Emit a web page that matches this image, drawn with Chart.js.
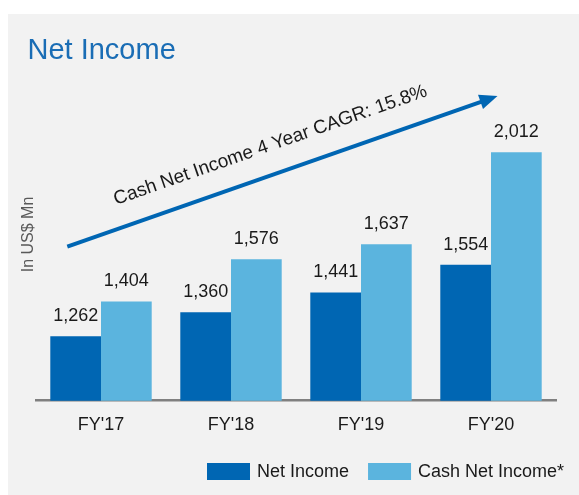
<!DOCTYPE html>
<html><head><meta charset="utf-8">
<script src="https://cdn.jsdelivr.net/npm/chart.js@4"></script>
<style>
html,body{margin:0;padding:0;background:#ffffff;overflow:hidden;}
#panel{position:absolute;left:8px;top:14px;width:571px;height:481px;background:#f2f2f2;}
#wrap{position:absolute;left:0;top:0;width:579px;height:495px;}
</style></head><body>
<div id="panel"></div>
<div id="wrap"><canvas id="c" width="579" height="495"></canvas></div>
<script>
const categories = ["FY'17", "FY'18", "FY'19", "FY'20"];
const netIncome = [1262, 1360, 1441, 1554];
const cashNetIncome = [1404, 1576, 1637, 2012];
const seriesNames = ["Net Income", "Cash Net Income*"];
const chartTitle = "Net Income";
const yAxisTitle = "In US$ Mn";
const cagrNote = "Cash Net Income 4 Year CAGR: 15.8%";
const yMin = 1000;
const yMax = 2200;

const FONT = '"Liberation Sans", Arial, sans-serif';
const DARK = '#0066b3';
const LIGHT = '#5bb4de';
const TEXT = '#1a1a1a';

const decorPlugin = {
  id: 'decor',
  afterDatasetsDraw(chart) {
    const ctx = chart.ctx;
    ctx.save();
    // data labels
    ctx.font = '18px ' + FONT;
    ctx.fillStyle = TEXT;
    ctx.textAlign = 'center';
    ctx.textBaseline = 'alphabetic';
    chart.data.datasets.forEach((ds, di) => {
      const meta = chart.getDatasetMeta(di);
      meta.data.forEach((el, i) => {
        ctx.fillText(ds.data[i].toLocaleString('en-US'), el.x, el.y - 15);
      });
    });
    // title
    ctx.textAlign = 'left';
    ctx.font = '29px ' + FONT;
    ctx.fillStyle = '#1a6db5';
    ctx.fillText(chartTitle, 27.5, 58.5);
    // y axis title
    ctx.save();
    ctx.translate(28.5, 234.5);
    ctx.rotate(-Math.PI / 2);
    ctx.textAlign = 'center';
    ctx.textBaseline = 'middle';
    ctx.font = '16px ' + FONT;
    ctx.fillStyle = '#595959';
    ctx.fillText(yAxisTitle, 0, 0);
    ctx.restore();
    // arrow
    const x0 = 67.3, y0 = 246.7, x1 = 497.5, y1 = 96;
    const dx = x1 - x0, dy = y1 - y0, len = Math.hypot(dx, dy);
    const ux = dx / len, uy = dy / len;
    const hl = 18, hw = 7.5;
    ctx.strokeStyle = DARK;
    ctx.fillStyle = DARK;
    ctx.lineWidth = 4;
    ctx.beginPath();
    ctx.moveTo(x0, y0);
    ctx.lineTo(x1 - ux * (hl - 2), y1 - uy * (hl - 2));
    ctx.stroke();
    ctx.beginPath();
    ctx.moveTo(x1, y1);
    ctx.lineTo(x1 - ux * hl - uy * hw, y1 - uy * hl + ux * hw);
    ctx.lineTo(x1 - ux * hl + uy * hw, y1 - uy * hl - ux * hw);
    ctx.closePath();
    ctx.fill();
    // CAGR note
    ctx.save();
    const ang = Math.atan2(dy, dx);
    ctx.translate(116, 205);
    ctx.rotate(ang);
    ctx.textAlign = 'left';
    ctx.textBaseline = 'alphabetic';
    ctx.font = '19px ' + FONT;
    ctx.fillStyle = TEXT;
    ctx.fillText(cagrNote, 0, 0);
    ctx.restore();
    // legend
    let lx = 207;
    const ly = 463, bw = 43, bh = 17;
    ctx.font = '18px ' + FONT;
    ctx.textBaseline = 'middle';
    ctx.textAlign = 'left';
    chart.data.datasets.forEach((ds) => {
      ctx.fillStyle = ds.backgroundColor;
      ctx.fillRect(lx, ly, bw, bh);
      ctx.fillStyle = TEXT;
      ctx.fillText(ds.label, lx + bw + 7, ly + bh / 2 + 0.5);
      lx += bw + 7 + ctx.measureText(ds.label).width + 19;
    });
    ctx.restore();
  }
};

new Chart(document.getElementById('c'), {
  type: 'bar',
  data: {
    labels: categories,
    datasets: [
      { label: seriesNames[0], data: netIncome, backgroundColor: DARK },
      { label: seriesNames[1], data: cashNetIncome, backgroundColor: LIGHT }
    ]
  },
  options: {
    responsive: false,
    devicePixelRatio: 1,
    animation: false,
    layout: { padding: { left: 36, right: 23, top: 106, bottom: 54.3 } },
    plugins: {
      legend: { display: false },
      title: { display: false },
      tooltip: { enabled: false }
    },
    datasets: { bar: { categoryPercentage: 0.78, barPercentage: 1.0 } },
    scales: {
      x: {
        grid: { display: false, drawTicks: false },
        border: { display: true, color: '#808080', width: 2.5 },
        ticks: { color: TEXT, padding: 13.5, font: { family: FONT, size: 18 } },
        afterFit(scale) { scale.height = 40; }
      },
      y: {
        display: false,
        min: yMin,
        max: yMax
      }
    }
  },
  plugins: [decorPlugin]
});
</script>
</body></html>
